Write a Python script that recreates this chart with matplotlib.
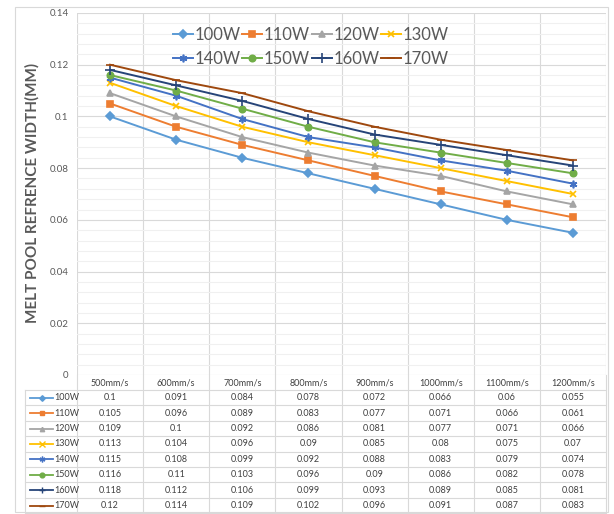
import numpy as np
import matplotlib.pyplot as plt
from matplotlib.lines import Line2D
from matplotlib.patches import Rectangle
from matplotlib.transforms import blended_transform_factory
from matplotlib.ticker import MultipleLocator

plt.rcParams['font.family'] = ['Lato', 'DejaVu Sans']

speeds = ['500mm/s', '600mm/s', '700mm/s', '800mm/s',
          '900mm/s', '1000mm/s', '1100mm/s', '1200mm/s']
powers = ['100W', '110W', '120W', '130W', '140W', '150W', '160W', '170W']
w100 = [0.1, 0.091, 0.084, 0.078, 0.072, 0.066, 0.06, 0.055]
w110 = [0.105, 0.096, 0.089, 0.083, 0.077, 0.071, 0.066, 0.061]
w120 = [0.109, 0.1, 0.092, 0.086, 0.081, 0.077, 0.071, 0.066]
w130 = [0.113, 0.104, 0.096, 0.09, 0.085, 0.08, 0.075, 0.07]
w140 = [0.115, 0.108, 0.099, 0.092, 0.088, 0.083, 0.079, 0.074]
w150 = [0.116, 0.11, 0.103, 0.096, 0.09, 0.086, 0.082, 0.078]
w160 = [0.118, 0.112, 0.106, 0.099, 0.093, 0.089, 0.085, 0.081]
w170 = [0.12, 0.114, 0.109, 0.102, 0.096, 0.091, 0.087, 0.083]
widths = [w100, w110, w120, w130, w140, w150, w160, w170]

# excel office palette + marker per series
colors = ['#5B9BD5', '#ED7D31', '#A5A5A5', '#FFC000',
          '#4472C4', '#70AD47', '#264478', '#9E480E']
markers = ['D', 's', '^', 'x', (6, 2, 0), 'o', '+', '_']
msizes = [3.8, 4.2, 4.2, 5, 5.5, 4.6, 6.5, 5.5]

W, H = 614, 514
fig = plt.figure(figsize=(W / 100, H / 100), dpi=100)


def fx(px):
    return px / W


def fy(py):
    return 1 - py / H


# chart area border
fig.add_artist(Rectangle((fx(15), fy(512)), fx(608) - fx(15), fy(7) - fy(512),
                         transform=fig.transFigure, fill=False,
                         edgecolor='#D9D9D9', lw=0.8))

ax = fig.add_axes([fx(77), fy(375), fx(606) - fx(77), fy(13) - fy(375)])
x = np.arange(len(speeds))

lines = []
for vals, name, c, m, ms in zip(widths, powers, colors, markers, msizes):
    ln, = ax.plot(x, vals, color=c, lw=1.4, marker=m, markersize=ms,
                  markeredgewidth=1.2, label=name, zorder=3)
    lines.append(ln)

ax.set_xlim(-0.5, len(speeds) - 0.5)
ax.set_ylim(0, 0.14)
ax.yaxis.set_minor_locator(MultipleLocator(0.004))
yt = np.round(np.arange(0, 0.141, 0.02), 2)
ax.set_yticks(yt)
ax.set_yticklabels([f'{v:g}' for v in yt])
ax.set_xticks(np.arange(-0.5, len(speeds), 1.0))
ax.set_xticklabels([])
ax.tick_params(axis='both', which='both', length=0, labelsize=7,
               labelcolor='#595959', pad=6)
ax.grid(True, which='major', color='#D9D9D9', lw=0.8)
ax.grid(True, which='minor', axis='y', color='#F0F0F0', lw=0.8)
ax.set_axisbelow(True)
for s in ax.spines.values():
    s.set_visible(False)

fig.text(fx(32), fy(193), 'MELT POOL REFRENCE WIDTH(MM)', rotation=90,
         ha='center', va='center', fontsize=11, fontweight='bold',
         color='#595959')

# legend fills row by row like excel: 4 per row
order = [0, 4, 1, 5, 2, 6, 3, 7]
leg = ax.legend([lines[i] for i in order], [powers[i] for i in order],
                ncol=4, loc='upper center', bbox_to_anchor=(fx(311), fy(15)),
                bbox_transform=fig.transFigure, frameon=False, fontsize=12,
                handlelength=1.2, handletextpad=0.1, columnspacing=0.1,
                labelspacing=0.5, borderpad=0.2)
for t in leg.get_texts():
    t.set_color('#595959')

# data table under the plot
tr = blended_transform_factory(ax.transData, fig.transFigure)
row_h = 15.4
head_top, head_bot = 375, 390
tab_left = 25
txt_col = '#404040'

for i, sp in enumerate(speeds):
    fig.text(0, 0, sp, transform=tr, fontsize=6.5, color=txt_col,
             ha='center', va='center').set_position((i, fy((head_top + head_bot) / 2)))

# vertical lines through the table
for xb in np.arange(-0.5, len(speeds), 1.0):
    fig.add_artist(Line2D([xb, xb], [fy(head_top), fy(512)], transform=tr,
                          color='#D9D9D9', lw=0.8))
fig.add_artist(Line2D([fx(tab_left), fx(tab_left)], [fy(head_bot), fy(512)],
                      transform=fig.transFigure, color='#D9D9D9', lw=0.8))

for r in range(len(powers) + 1):
    yl = head_bot + r * row_h
    fig.add_artist(Line2D([fx(tab_left), fx(606)], [fy(yl), fy(yl)],
                          transform=fig.transFigure, color='#D9D9D9', lw=0.8))

for r, (vals, name, c, m, ms) in enumerate(zip(widths, powers, colors, markers, msizes)):
    yc = fy(head_bot + (r + 0.5) * row_h)
    fig.add_artist(Line2D([fx(30), fx(53)], [yc, yc], transform=fig.transFigure,
                          color=c, lw=1.3))
    fig.add_artist(Line2D([fx(41.5)], [yc], transform=fig.transFigure,
                          color=c, marker=m, markersize=ms * 0.75,
                          markeredgewidth=1.0, lw=0))
    fig.text(fx(54), yc, name, fontsize=6.5, color=txt_col, ha='left', va='center')
    for i, v in enumerate(vals):
        fig.text(0, 0, f'{v:g}', transform=tr, fontsize=6.5, color=txt_col,
                 ha='center', va='center').set_position((i, yc))

fig.savefig('out.png', dpi=100)
